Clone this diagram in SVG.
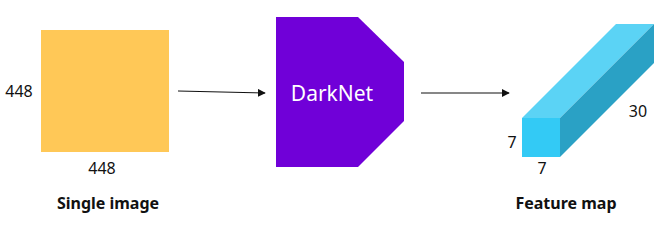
<svg xmlns="http://www.w3.org/2000/svg" width="669" height="236" viewBox="0 0 669 236">
<defs>
<style>
.t{font-family:"Noto Sans","Open Sans","Liberation Sans",sans-serif;font-size:16px;fill:#111}
.b{font-family:"Noto Sans","Open Sans","Liberation Sans",sans-serif;font-size:16px;font-weight:bold;fill:#111}
.e{stroke:#111;stroke-width:1.2;fill:none;marker-end:url(#ah)}
</style>
<marker id="ah" viewBox="0 0 10 10" refX="9" refY="5" markerWidth="8" markerHeight="8" markerUnits="userSpaceOnUse" orient="auto">
<path d="M0,0 L10,5 L0,10 z" fill="#111"/>
</marker>
</defs>
<rect width="669" height="236" fill="#fff"/>
<g id="image">
<rect x="41" y="30" width="128" height="122" fill="#FFC857"/>
<text class="t" x="19" y="97" text-anchor="middle">448</text>
<text class="t" x="102" y="174" text-anchor="middle">448</text>
<text class="b" x="108" y="209" text-anchor="middle">Single image</text>
</g>
<g id="darknet">
<path d="M276,17 L358,17 L404,62 L404,121 L358,167 L276,167 z" fill="#7000D8"/>
<text x="332" y="101" text-anchor="middle" font-family="Noto Sans,Open Sans,Liberation Sans,sans-serif" font-size="21" fill="#fff">DarkNet</text>
</g>
<g id="featuremap">
<path d="M522,118 L560,118 L654,24 L616,24 z" fill="#5BD3F5"/>
<path d="M560,118 L654,24 L654,63 L560,157 z" fill="#2AA1C5"/>
<rect x="522" y="118" width="38" height="39" fill="#33CAF5"/>
<text class="t" x="638" y="117" text-anchor="middle">30</text>
<text class="t" x="512" y="148" text-anchor="middle">7</text>
<text class="t" x="542" y="174" text-anchor="middle">7</text>
<text class="b" x="566" y="209" text-anchor="middle">Feature map</text>
</g>
<g id="connectors">
<path class="e" d="M178,91 L265,93"/>
<path class="e" d="M421,93 L509,93"/>
</g>
</svg>
